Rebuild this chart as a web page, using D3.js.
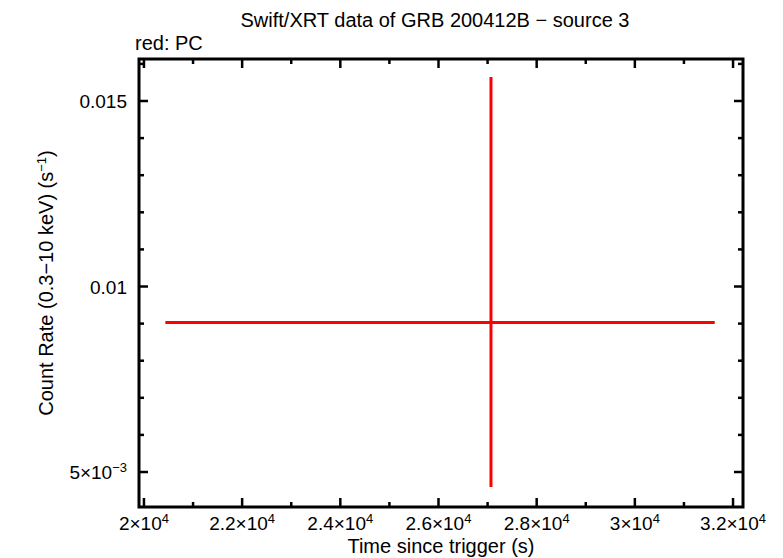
<!DOCTYPE html>
<html>
<head>
<meta charset="utf-8">
<script src="https://cdn.jsdelivr.net/npm/d3@7"></script>
<style>
  body { margin: 0; background: #fff; }
  text { font-family: "Liberation Sans", Arial, sans-serif; fill: #000; }
</style>
</head>
<body>
<div id="chart"></div>
<script>
// one PC-mode point with its error bars
var times = [27069];
var timeLo = [20436];
var timeHi = [31627];
var rates = [0.00903];
var rateLo = [0.004596];
var rateHi = [0.015647];

var xTicks = [20000, 22000, 24000, 26000, 28000, 30000, 32000];
var xTickLabels = [["2", "4"], ["2.2", "4"], ["2.4", "4"], ["2.6", "4"], ["2.8", "4"], ["3", "4"], ["3.2", "4"]];
var yTicks = [0.005, 0.01, 0.015];
var yTickLabels = ["5×10|−3", "0.01", "0.015"];

var width = 783, height = 558;
var margin = { top: 59, right: 40, bottom: 51, left: 139 };

var svg = d3.select("#chart").append("svg")
  .attr("width", width)
  .attr("height", height);

var x = d3.scaleLinear()
  .domain([19899, 32203])
  .range([margin.left, width - margin.right]);
var y = d3.scaleLinear()
  .domain([0.004057, 0.016132])
  .range([height - margin.bottom, margin.top]);

var x0 = margin.left, x1 = width - margin.right;
var y0 = height - margin.bottom, y1 = margin.top;

// minor ticks every 1000 s and 0.001 cts/s
var xMinor = d3.range(20000, 32001, 1000).filter(function (d) { return xTicks.indexOf(d) < 0; });
var yMinor = d3.range(5, 17).map(function (d) { return d / 1000; })
  .filter(function (d) { return d > y.domain()[0] && d < y.domain()[1] && yTicks.every(function (t) { return Math.abs(t - d) > 1e-9; }); });

var g = svg.append("g").attr("stroke", "#000").attr("stroke-width", 2.5);

function xTick(v, len) {
  g.append("line").attr("x1", x(v)).attr("x2", x(v)).attr("y1", y0).attr("y2", y0 - len);
  g.append("line").attr("x1", x(v)).attr("x2", x(v)).attr("y1", y1).attr("y2", y1 + len);
}
function yTick(v, len) {
  g.append("line").attr("y1", y(v)).attr("y2", y(v)).attr("x1", x0).attr("x2", x0 + len);
  g.append("line").attr("y1", y(v)).attr("y2", y(v)).attr("x1", x1).attr("x2", x1 - len);
}
xTicks.forEach(function (v) { xTick(v, 9); });
xMinor.forEach(function (v) { xTick(v, 5); });
yTicks.forEach(function (v) { yTick(v, 9); });
yMinor.forEach(function (v) { yTick(v, 5); });

// frame
svg.append("rect")
  .attr("x", x0).attr("y", y1)
  .attr("width", x1 - x0).attr("height", y0 - y1)
  .attr("fill", "none").attr("stroke", "#000").attr("stroke-width", 3);

// data
var pts = svg.append("g").attr("stroke", "#f00").attr("stroke-width", 3);
times.forEach(function (t, i) {
  pts.append("line")
    .attr("x1", x(timeLo[i])).attr("x2", x(timeHi[i]))
    .attr("y1", y(rates[i])).attr("y2", y(rates[i]));
  pts.append("line")
    .attr("x1", x(t)).attr("x2", x(t))
    .attr("y1", y(rateLo[i])).attr("y2", y(rateHi[i]));
});

// x tick labels
xTicks.forEach(function (v, i) {
  var t = svg.append("text")
    .attr("x", x(v)).attr("y", y0 + 23)
    .attr("text-anchor", "middle")
    .style("font-size", "19px");
  t.append("tspan").text(xTickLabels[i][0] + "×10");
  t.append("tspan").attr("dy", -7).style("font-size", "13px").text(xTickLabels[i][1]);
});

// y tick labels
yTicks.forEach(function (v, i) {
  var parts = yTickLabels[i].split("|");
  var t = svg.append("text")
    .attr("x", x0 - 12).attr("y", y(v) + 7)
    .attr("text-anchor", "end")
    .style("font-size", "19px");
  t.append("tspan").text(parts[0]);
  if (parts[1]) t.append("tspan").attr("dy", -7).style("font-size", "13px").text(parts[1]);
});

// titles
svg.append("text")
  .attr("x", 435).attr("y", 27)
  .attr("text-anchor", "middle")
  .style("font-size", "20px")
  .text("Swift/XRT data of GRB 200412B − source 3");
svg.append("text")
  .attr("x", 135).attr("y", 50)
  .style("font-size", "20px")
  .text("red: PC");
svg.append("text")
  .attr("x", 441).attr("y", 553)
  .attr("text-anchor", "middle")
  .style("font-size", "20px")
  .text("Time since trigger (s)");

var yl = svg.append("text")
  .attr("transform", "translate(53,283) rotate(-90)")
  .attr("text-anchor", "middle")
  .style("font-size", "20px");
yl.append("tspan").text("Count Rate (0.3−10 keV) (s");
yl.append("tspan").attr("dy", -7).style("font-size", "13px").text("−1");
yl.append("tspan").attr("dy", 7).text(")");
</script>
</body>
</html>
